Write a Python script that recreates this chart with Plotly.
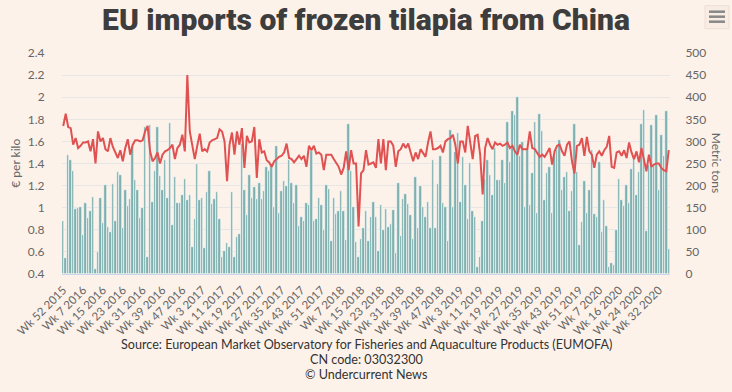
import plotly.graph_objects as go

# ---- categories (weekly) ----
years_weeks = [(2015, [52, 53])]
years_weeks += [(y, list(range(1, 53))) for y in (2016, 2017, 2018, 2019)]
years_weeks += [(2020, [w for w in range(1, 37) if w != 12])]
weeks = [f"Wk {w} {y}" for y, ws in years_weeks for w in ws]

tick_labels = ["Wk 52 2015", "Wk 7 2016", "Wk 15 2016", "Wk 23 2016", "Wk 31 2016", "Wk 39 2016",
               "Wk 47 2016", "Wk 3 2017", "Wk 11 2017", "Wk 19 2017", "Wk 27 2017", "Wk 35 2017",
               "Wk 43 2017", "Wk 51 2017", "Wk 7 2018", "Wk 15 2018", "Wk 23 2018", "Wk 31 2018",
               "Wk 39 2018", "Wk 47 2018", "Wk 3 2019", "Wk 11 2019", "Wk 19 2019", "Wk 27 2019",
               "Wk 35 2019", "Wk 43 2019", "Wk 51 2019", "Wk 7 2020", "Wk 16 2020", "Wk 24 2020",
               "Wk 32 2020"]

# ---- volumes, metric tons ----
tons = [
    119, 36, 270, 257, 234, 146, 149, 152, 88, 160, 127, 142, 175, 11, 49, 171, 115, 201, 106, 95,
    203, 119, 230, 225, 103, 189, 153, 169, 287, 213,
    191, 127, 150, 332, 38, 338, 164, 234, 333, 222, 191, 258, 172, 342, 110, 220, 160, 160, 178, 216,
    167, 178, 60, 124, 250, 168, 173, 58, 185, 232, 159, 170,
    185, 124, 38, 51, 71, 62, 185, 38, 84, 91, 293, 191, 133, 223, 172, 197, 170, 205, 170, 187,
    243, 234, 250, 152, 289, 137, 187, 210, 198, 257, 207,
    160, 202, 108, 130, 121, 161, 157, 279, 119, 125, 173, 157, 100, 202, 193, 74, 173, 135, 142, 187,
    142, 77, 340, 234, 152, 72, 39, 80, 104, 142, 75,
    128, 162, 130, 51, 157, 100, 146, 106, 114, 144, 47, 205, 85, 169, 182, 159, 133, 80, 219, 103,
    198, 151, 130, 162, 105, 259, 103, 203, 268, 160, 152, 74,
    326, 152, 277, 318, 164, 264, 201, 124, 251, 142, 130, 15, 38, 119, 216, 257, 225, 178, 284, 213,
    213, 259, 207, 343, 253, 368, 360, 401, 268, 299, 152,
    281, 155, 228, 343, 138, 363, 324, 167, 228, 243, 139, 266, 281, 304, 191, 219, 230, 142, 187, 340,
    230, 66, 117, 210, 139, 189, 281, 136, 128, 253, 94, 167,
    108, 15, 26, 21, 100, 214, 168, 154, 202, 160, 238, 266, 178, 231, 340, 372, 97, 247, 338, 247,
    359, 189, 314, 268, 369, 57,
]

# ---- price, EUR per kilo ----
price = [
    1.74, 1.85, 1.73, 1.72, 1.57, 1.63, 1.54, 1.56, 1.59, 1.59, 1.60, 1.51, 1.62, 1.40, 1.69, 1.60,
    1.63, 1.53, 1.51, 1.63, 1.55, 1.50, 1.45, 1.52, 1.42, 1.54, 1.62, 1.48, 1.57, 1.61,
    1.61, 1.60, 1.61, 1.69, 1.74, 1.51, 1.42, 1.45, 1.50, 1.40, 1.48, 1.51, 1.52, 1.54, 1.57, 1.44,
    1.54, 1.57, 1.66, 1.51, 2.20, 1.69, 1.57, 1.44, 1.56, 1.67, 1.51, 1.53, 1.51, 1.59, 1.61, 1.62,
    1.63, 1.71, 1.69, 1.60, 1.24, 1.57, 1.68, 1.48, 1.69, 1.57, 1.72, 1.36, 1.65, 1.59, 1.60, 1.73,
    1.27, 1.62, 1.50, 1.51, 1.43, 1.41, 1.37, 1.42, 1.44, 1.46, 1.47, 1.50, 1.58, 1.45, 1.44,
    1.41, 1.44, 1.47, 1.44, 1.47, 1.37, 1.56, 1.52, 1.56, 1.49, 1.50, 1.48, 1.34, 1.48, 1.48, 1.48,
    1.44, 1.40, 1.37, 1.30, 1.36, 1.51, 1.34, 1.52, 1.40, 1.40, 0.83, 1.31, 1.34, 1.52, 1.39,
    1.40, 1.41, 1.36, 1.62, 1.40, 1.62, 1.34, 1.60, 1.60, 1.56, 1.37, 1.51, 1.53, 1.58, 1.54, 1.58,
    1.50, 1.42, 1.50, 1.44, 1.53, 1.50, 1.46, 1.59, 1.69, 1.53, 1.53, 1.54, 1.56, 1.50, 1.60, 1.62,
    1.63, 1.66, 1.57, 1.40, 1.60, 1.60, 1.50, 1.74, 1.57, 1.44, 1.65, 1.66, 1.48, 1.12, 1.54, 1.63,
    1.57, 1.53, 1.59, 1.57, 1.58, 1.56, 1.57, 1.59, 1.54, 1.56, 1.51, 1.48, 1.57, 1.53, 1.53,
    1.53, 1.69, 1.54, 1.53, 1.49, 1.46, 1.48, 1.46, 1.50, 1.54, 1.39, 1.51, 1.56, 1.57, 1.51, 1.47,
    1.57, 1.60, 1.42, 1.31, 1.56, 1.57, 1.63, 1.47, 1.64, 1.51, 1.48, 1.36, 1.48, 1.51, 1.47, 1.52,
    1.55, 1.65, 1.37, 1.36, 1.50, 1.51, 1.47, 1.52, 1.45, 1.59, 1.50, 1.44, 1.51, 1.41, 1.54, 1.42,
    1.33, 1.48, 1.37, 1.39, 1.40, 1.40, 1.36, 1.34, 1.33, 1.52,
]

BG = "#fdf2e9"
TEXT = "#666666"
FONT = "Lato"

fig = go.Figure()
fig.add_trace(go.Bar(
    x=weeks, y=tons, yaxis="y",
    marker=dict(color="#7fb0b0", line=dict(color="#ffffff", width=0.6)),
    name="Metric tons",
))
fig.add_trace(go.Scatter(
    x=weeks, y=price, yaxis="y2", mode="lines",
    line=dict(color="#e05252", width=2),
    name="€ per kilo",
))

fig.update_layout(
    width=732, height=392,
    paper_bgcolor=BG, plot_bgcolor=BG,
    margin=dict(l=62, r=62, t=53, b=118),
    showlegend=False,
    bargap=0,
    font=dict(family=FONT, color=TEXT, size=11),
    title=dict(text="EU imports of frozen tilapia from China",
               x=0.5, xanchor="center", y=0.95, yanchor="middle",
               font=dict(family="Roboto", size=30, color="#3d3d3d", weight=900)),
    xaxis=dict(
        type="category", categoryorder="array", categoryarray=weeks,
        tickmode="array", tickvals=tick_labels, ticktext=tick_labels,
        tickangle=-45, tickfont=dict(size=11.5, color=TEXT),
        ticks="outside", ticklen=4, tickcolor="rgba(0,0,0,0)",
        showgrid=False, showline=True, linecolor="#ccd6eb", linewidth=1,
        range=[-0.5, len(weeks) - 0.5],
    ),
    yaxis=dict(
        side="right", range=[0, 500], dtick=50,
        showgrid=True, gridcolor="#e6e6e6", gridwidth=1, zeroline=False,
        ticks="outside", ticklen=12, tickcolor="rgba(0,0,0,0)",
        tickfont=dict(size=12, color=TEXT),
    ),
    yaxis2=dict(
        side="left", overlaying="y", range=[0.4, 2.4], dtick=0.2,
        showgrid=False, zeroline=False,
        ticks="outside", ticklen=14, tickcolor="rgba(0,0,0,0)",
        tickfont=dict(size=12, color=TEXT),
    ),
)

# axis titles
fig.add_annotation(text="€ per kilo", xref="paper", yref="paper", x=-0.077, y=0.5,
                   textangle=-90, showarrow=False, font=dict(size=12, color=TEXT),
                   xanchor="center", yanchor="middle")
fig.add_annotation(text="Metric tons", xref="paper", yref="paper", x=1.077, y=0.5,
                   textangle=90, showarrow=False, font=dict(size=12, color=TEXT),
                   xanchor="center", yanchor="middle")

# footer / credits
footer = ["Source: European Market Observatory for Fisheries and Aquaculture Products (EUMOFA)",
          "CN code: 03032300", "© Undercurrent News"]
for k, line in enumerate(footer):
    py = 345 + 15 * k
    fig.add_annotation(text=line, xref="paper", yref="paper", x=0.5,
                       y=(274.3 - py) / 221.0, showarrow=False,
                       font=dict(size=12.6, color="#333333"), xanchor="center", yanchor="middle")

# export-menu icon
def px(xp):
    return (xp - 62) / 608.0

def py_(yp):
    return (274.3 - yp) / 221.0

fig.add_shape(type="rect", xref="paper", yref="paper", x0=px(705), x1=px(729), y0=py_(29), y1=py_(6),
              line=dict(color="#eadfd6", width=1), fillcolor="#f9ece2")
for yy in (12, 17, 22):
    fig.add_shape(type="line", xref="paper", yref="paper", x0=px(709), x1=px(725),
                  y0=py_(yy), y1=py_(yy), line=dict(color="#888888", width=2.5))

fig.write_html("out.html", config={"displayModeBar": False},
               post_script="document.body.style.margin='0';document.body.style.overflow='hidden';")
